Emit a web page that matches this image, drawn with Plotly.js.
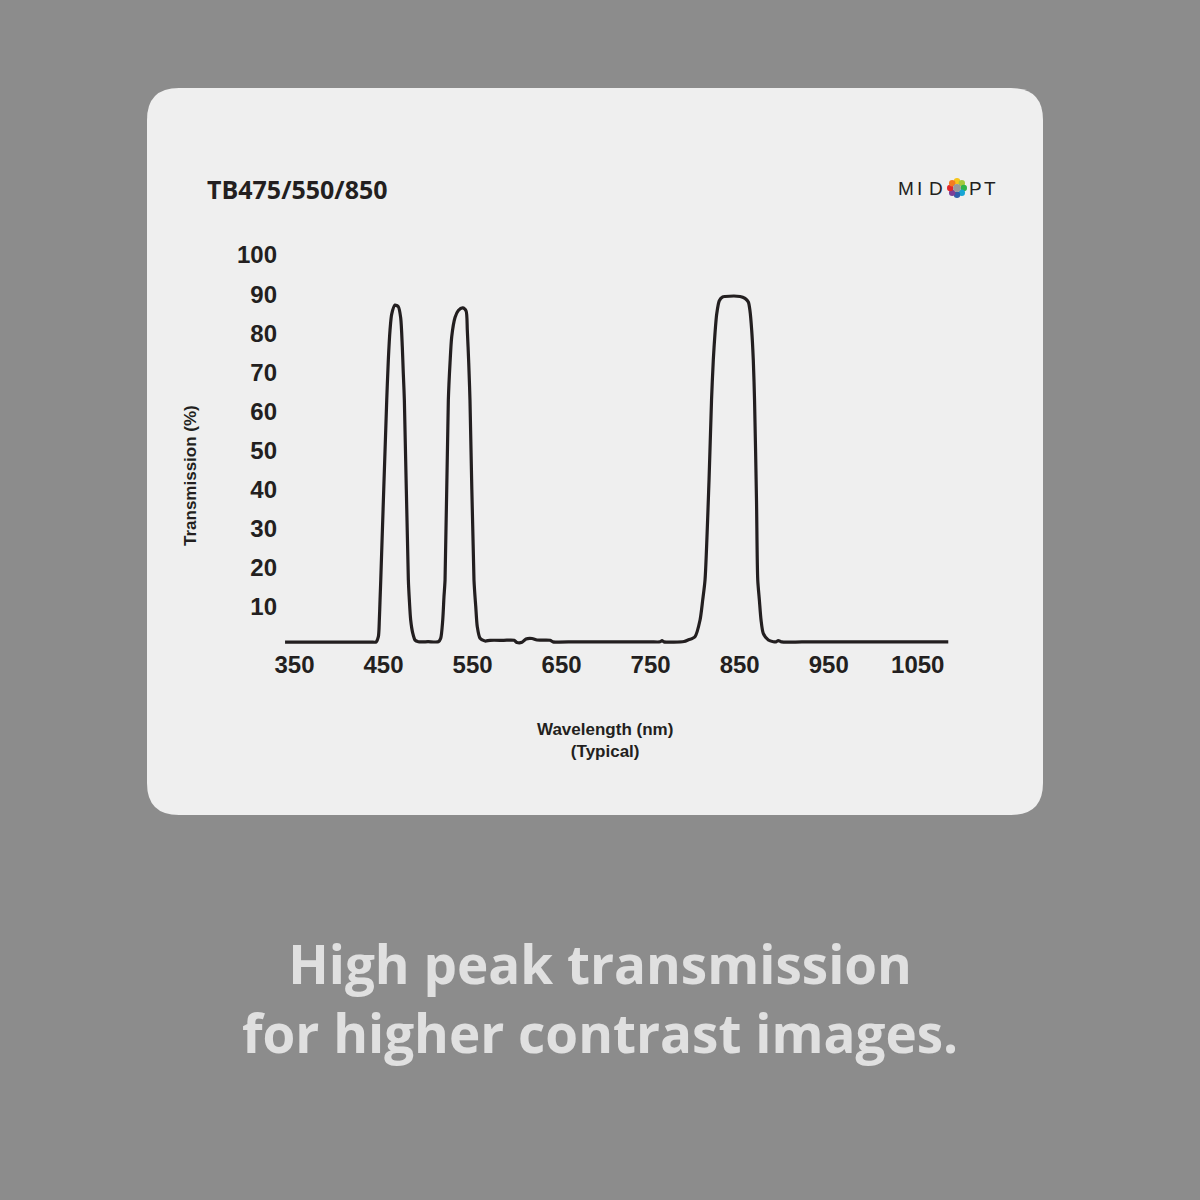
<!DOCTYPE html>
<html>
<head>
<meta charset="utf-8">
<script src="https://cdn.plot.ly/plotly-3.0.1.min.js"></script>
<style>
  html, body { margin: 0; padding: 0; background: #8c8c8c; }
  #chart { width: 1200px; height: 1200px; }
</style>
</head>
<body>
<div id="chart"></div>
<script>
// ---- data ----
const wavelength = [
  339.4, 370, 400, 425, 436, 441.6, 444.2, 445.3, 446.1, 446.9, 453.6, 455.4, 457.3, 459.2, 462.9,
  466.6, 469.3, 471.1, 472.2, 473.4, 477.9, 479.0, 480.5, 482.8, 485.4, 489.1,
  500.0, 511.5, 514.2, 516.5, 517.9, 519.1, 522.8, 524.7, 526.6, 530.3, 534.0, 538.9,
  542.7, 544.1, 545.7, 547.1, 551.6, 553.6, 555.3, 558.4, 564.0, 569.6, 585.0, 596.6,
  599.9, 605.5, 610.0, 616.8, 622.4, 637.0, 640.4, 665.0, 695.0, 725.0, 750.0, 760.5, 762.8, 765.0, 787.5,
  792.0, 799.8, 805.5, 808.5, 811.1, 815.6, 818.4, 820.4, 822.3, 824.2, 827.1,
  831.0, 833.5, 850.4, 856.0, 859.7, 861.6, 863.5, 865.3, 866.7, 868.9, 870.3,
  872.1, 874.0, 876.5, 882.2, 887.8, 890.8, 893.4, 897.2, 920.0, 960.0, 1000.0, 1040.0, 1084.3
];
const transmission = [
  1.02, 1.02, 1.02, 1.02, 1.02, 1.02, 2.38, 6.65, 11.8, 16.9, 62.9, 73.2, 80.8, 84.9, 87.2,
  86.8, 83.9, 76.5, 69.8, 62.9, 16.9, 11.8, 6.65, 3.3, 1.5, 1.1,
  1.1, 1.1, 1.97, 6.65, 12.6, 16.9, 62.9, 72.4, 79.1, 84.0, 85.8, 86.5,
  85.7, 80.8, 72.4, 62.9, 16.9, 10.05, 4.94, 1.97, 1.28, 1.46, 1.46, 1.46,
  0.9, 0.95, 1.79, 1.92, 1.53, 1.48, 1.07, 1.07, 1.07, 1.07, 1.07, 1.07, 1.41, 1.07, 1.15,
  1.53, 2.38, 6.65, 11.8, 16.9, 42.5, 62.9, 73.2, 80.0, 84.9, 88.3,
  89.3, 89.4, 89.4, 88.9, 88.0, 85.7, 80.8, 73.2, 62.9, 37.3, 16.9,
  11.8, 6.65, 3.25, 1.53, 1.1, 1.07, 1.41, 1.05, 1.05, 1.05, 1.05, 1.05, 1.05
];
const xTickVals = [350, 450, 550, 650, 750, 850, 950, 1050];
const xTickText = ['350', '450', '550', '650', '750', '850', '950', '1050'];
const yTickVals = [10, 20, 30, 40, 50, 60, 70, 80, 90, 100];
const yTickText = ['10', '20', '30', '40', '50', '60', '70', '80', '90', '100'];

const chartTitle = 'TB475/550/850';
const yTitle = 'Transmission (%)';
const xTitle = 'Wavelength (nm)<br>(Typical)';
const caption = 'High peak transmission<br>for higher contrast images.';
const logoLeft = ['M', 'I', 'D'];
const logoRight = ['P', 'T'];
const logoDotColors = ['#f6c51b', '#a6c93b', '#2fb34a', '#17a6d6', '#2e5fab', '#7b3f98', '#e3262b', '#f47b20'];

// ---- layout geometry ----
const W = 1200, H = 1200;
const M = { l: 283, r: 247, t: 235, b: 546, pad: 0 };
const PW = W - M.l - M.r, PH = H - M.t - M.b;
const X = px => (px - M.l) / PW;          // pixel -> paper x
const Y = py => (H - M.b - py) / PH;      // pixel -> paper y

const ink = '#231f20';
const axisFont = { family: 'Liberation Sans, Arial, sans-serif', size: 24, color: ink, weight: 'bold' };

// rounded card
function roundRect(x0, y0, x1, y1, r) {
  const p = (a, b) => X(a) + ',' + Y(b);
  return 'M' + p(x0 + r, y0) + ' L' + p(x1 - r, y0) + ' Q' + p(x1, y0) + ' ' + p(x1, y0 + r) +
    ' L' + p(x1, y1 - r) + ' Q' + p(x1, y1) + ' ' + p(x1 - r, y1) +
    ' L' + p(x0 + r, y1) + ' Q' + p(x0, y1) + ' ' + p(x0, y1 - r) +
    ' L' + p(x0, y0 + r) + ' Q' + p(x0, y0) + ' ' + p(x0 + r, y0) + ' Z';
}

const shapes = [{
  type: 'path', xref: 'paper', yref: 'paper', layer: 'below',
  path: roundRect(147, 88, 1043, 815, 32),
  fillcolor: '#efefef', line: { width: 0 }
}];

// logo dots
const cx = 957, cy = 188, ringR = 6.8, dotR = 3.2;
logoDotColors.forEach((c, i) => {
  const a = -Math.PI / 2 + i * Math.PI / 4;
  const dx = cx + ringR * Math.cos(a), dy = cy + ringR * Math.sin(a);
  shapes.push({
    type: 'circle', xref: 'paper', yref: 'paper',
    x0: X(dx - dotR), x1: X(dx + dotR), y0: Y(dy + dotR), y1: Y(dy - dotR),
    fillcolor: c, line: { width: 0 }
  });
});
shapes.push({
  type: 'circle', xref: 'paper', yref: 'paper',
  x0: X(cx - 3.9), x1: X(cx + 3.9), y0: Y(cy + 3.9), y1: Y(cy - 3.9),
  fillcolor: '#9a9a9a', line: { width: 0 }
});

const logoFont = { family: 'Liberation Sans, Arial, sans-serif', size: 19, color: ink, weight: 500 };
const logoLeftX = [905.5, 919.5, 935.5];
const logoRightX = [975, 990];
const annotations = [];
logoLeft.forEach((t, i) => annotations.push({
  text: t, xref: 'paper', yref: 'paper', x: X(logoLeftX[i]), y: Y(188),
  xanchor: 'center', yanchor: 'middle', showarrow: false, font: logoFont
}));
logoRight.forEach((t, i) => annotations.push({
  text: t, xref: 'paper', yref: 'paper', x: X(logoRightX[i]), y: Y(188),
  xanchor: 'center', yanchor: 'middle', showarrow: false, font: logoFont
}));

annotations.push(
  { text: chartTitle, xref: 'paper', yref: 'paper', x: X(205), y: Y(189),
    xanchor: 'left', yanchor: 'middle', showarrow: false,
    font: { family: 'Open Sans, sans-serif', size: 25, color: ink, weight: 'bold' } },
  { text: yTitle, xref: 'paper', yref: 'paper', x: X(190), y: Y(476), textangle: -90,
    xanchor: 'center', yanchor: 'middle', showarrow: false,
    font: { family: 'Liberation Sans, Arial, sans-serif', size: 17, color: ink, weight: 'bold' } },
  { text: xTitle, xref: 'paper', yref: 'paper', x: X(605), y: Y(740),
    xanchor: 'center', yanchor: 'middle', showarrow: false,
    font: { family: 'Liberation Sans, Arial, sans-serif', size: 17, color: ink, weight: 'bold' } },
  { text: caption, xref: 'paper', yref: 'paper', x: X(600), y: Y(998),
    xanchor: 'center', yanchor: 'middle', showarrow: false,
    font: { family: 'Open Sans, sans-serif', size: 53, color: '#e0e0e0', weight: 'bold' } }
);

const trace = {
  x: wavelength, y: transmission, type: 'scatter', mode: 'lines',
  line: { color: ink, width: 3.2, shape: 'spline', smoothing: 0.7 }, hoverinfo: 'skip'
};

const layout = {
  width: W, height: H, margin: M,
  paper_bgcolor: '#8c8c8c', plot_bgcolor: 'rgba(0,0,0,0)',
  showlegend: false,
  xaxis: {
    range: [337.1, 1089.6], tickvals: xTickVals, ticktext: xTickText,
    showgrid: false, zeroline: false, showline: false, ticks: '',
    tickfont: axisFont, ticklabelstandoff: -6, fixedrange: true
  },
  yaxis: {
    range: [-2.04, 105.12], tickvals: yTickVals, ticktext: yTickText,
    showgrid: false, zeroline: false, showline: false, ticks: '',
    tickfont: axisFont, ticklabelstandoff: 5, fixedrange: true
  },
  shapes: shapes,
  annotations: annotations
};

Plotly.newPlot('chart', [trace], layout, { staticPlot: true, displayModeBar: false });
</script>
</body>
</html>
